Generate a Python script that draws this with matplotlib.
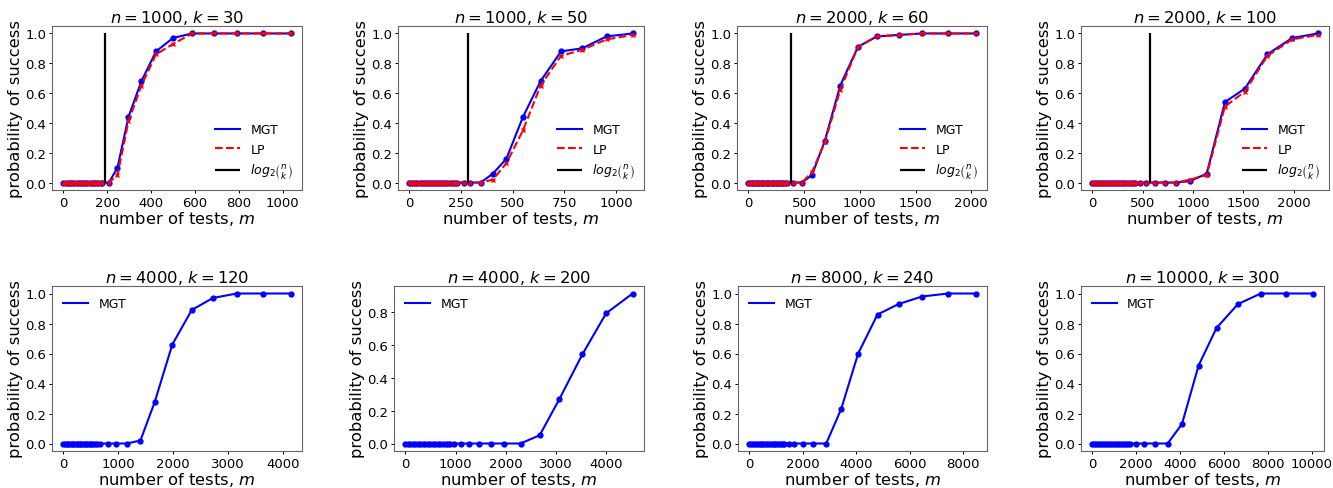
import numpy as np
import matplotlib.pyplot as plt
from matplotlib.ticker import MultipleLocator

# ---- data ----
titles = [r'$n = 1000$, $k = 30$', r'$n = 1000$, $k = 50$',
          r'$n = 2000$, $k = 60$', r'$n = 2000$, $k = 100$',
          r'$n = 4000$, $k = 120$', r'$n = 4000$, $k = 200$',
          r'$n = 8000$, $k = 240$', r'$n = 10000$, $k = 300$']

# log2(n choose k) marker for the top row
log2_binom = [190, 282, 385, 570]

m_1000_30 = [0, 10, 20, 30, 40, 50, 60, 70, 80, 90, 100, 110, 120, 130, 140, 150, 160, 170, 178,
             208, 247, 297, 356, 423, 501, 588, 688, 792, 912, 1037]
mgt_1000_30 = [0] * 19 + [0.0, 0.10, 0.44, 0.68, 0.88, 0.97, 1.0, 1.0, 1.0, 1.0, 1.0]
lp_1000_30 = [0] * 19 + [0.0, 0.05, 0.41, 0.65, 0.86, 0.93, 1.0, 1.0, 1.0, 1.0, 1.0]

m_1000_50 = [0, 10, 20, 30, 40, 50, 60, 70, 80, 90, 100, 110, 120, 130, 140, 150, 160, 170, 180, 190, 200, 210, 220,
             230, 263, 295, 346, 405, 470, 550, 635, 734, 836, 954, 1081]
mgt_1000_50 = [0] * 23 + [0.0, 0.0, 0.0, 0.0, 0.06, 0.16, 0.44, 0.68, 0.88, 0.90, 0.98, 1.0]
lp_1000_50 = [0] * 23 + [0.0, 0.0, 0.0, 0.0, 0.02, 0.13, 0.35, 0.65, 0.85, 0.89, 0.96, 0.99]

m_2000_60 = [0, 15, 30, 45, 60, 75, 90, 105, 120, 135, 150, 165, 180, 195, 210, 225, 240, 255, 270, 285, 300, 315,
             330, 346, 400, 481, 571, 686, 824, 983, 1152, 1350, 1561, 1790, 2039]
mgt_2000_60 = [0] * 24 + [0.0, 0.0, 0.05, 0.28, 0.65, 0.91, 0.98, 0.99, 1.0, 1.0, 1.0]
lp_2000_60 = [0] * 24 + [0.0, 0.0, 0.07, 0.27, 0.62, 0.91, 0.98, 0.99, 1.0, 1.0, 1.0]

m_2000_100 = [0, 20, 40, 60, 80, 100, 120, 140, 160, 180, 200, 220, 240, 260, 280, 300, 320, 340, 360, 380, 400, 420,
              471, 534, 619, 718, 834, 972, 1137, 1318, 1516, 1740, 1987, 2240]
mgt_2000_100 = [0] * 22 + [0.0, 0.0, 0.0, 0.0, 0.0, 0.01, 0.06, 0.54, 0.63, 0.86, 0.97, 1.0]
lp_2000_100 = [0] * 22 + [0.0, 0.0, 0.0, 0.0, 0.0, 0.02, 0.05, 0.51, 0.61, 0.85, 0.96, 0.99]

m_4000_120 = [0, 30, 60, 90, 120, 150, 180, 210, 240, 270, 300, 330, 360, 390, 420, 450, 480, 510, 540, 575, 610,
              672, 806, 965, 1160, 1404, 1667, 1984, 2338, 2723, 3156, 3632, 4139]
mgt_4000_120 = [0] * 21 + [0.0, 0.0, 0.0, 0.0, 0.02, 0.28, 0.66, 0.89, 0.97, 1.0, 1.0, 1.0]

m_4000_200 = [0, 50, 100, 150, 200, 250, 300, 350, 400, 450, 500, 550, 600, 650, 700, 750, 800, 850, 896,
              970, 1104, 1258, 1465, 1699, 1973, 2294, 2676, 3070, 3525, 4000, 4528]
mgt_4000_200 = [0] * 19 + [0.0, 0.0, 0.0, 0.0, 0.0, 0.0, 0.0, 0.05, 0.27, 0.54, 0.79, 0.91]

m_8000_240 = [0, 70, 140, 210, 280, 350, 420, 490, 560, 630, 700, 770, 840, 910, 980, 1050, 1120, 1190, 1250, 1308,
              1470, 1682, 1994, 2393, 2879, 3439, 4075, 4798, 5595, 6467, 7439, 8473]
mgt_8000_240 = [0] * 20 + [0.0, 0.0, 0.0, 0.0, 0.0, 0.23, 0.60, 0.86, 0.93, 0.98, 1.0, 1.0]

m_10000_300 = [0, 90, 180, 270, 360, 450, 540, 630, 720, 810, 900, 990, 1080, 1170, 1260, 1350, 1440, 1530, 1630,
               1704, 2000, 2370, 2844, 3437, 4089, 4844, 5659, 6637, 7674, 8815, 10044]
mgt_10000_300 = [0] * 19 + [0.0, 0.0, 0.0, 0.0, 0.0, 0.13, 0.52, 0.77, 0.93, 1.0, 1.0, 1.0]

top_m = [m_1000_30, m_1000_50, m_2000_60, m_2000_100]
top_mgt = [mgt_1000_30, mgt_1000_50, mgt_2000_60, mgt_2000_100]
top_lp = [lp_1000_30, lp_1000_50, lp_2000_60, lp_2000_100]
bot_m = [m_4000_120, m_4000_200, m_8000_240, m_10000_300]
bot_mgt = [mgt_4000_120, mgt_4000_200, mgt_8000_240, mgt_10000_300]

x_steps = [200, 250, 500, 500, 1000, 1000, 2000, 2000]

# axes boxes in pixels (left, right), rows (top, bottom)
W, H = 1333, 489
top_cols = [(52, 302), (398, 644), (737, 987), (1081, 1329)]
bot_cols = [(52, 302), (394, 644), (738, 987), (1081, 1324)]
top_row = (27, 191)
bot_row = (287, 452)


def make_ax(fig, col, row, step):
    l, r = col
    t, b = row
    ax = fig.add_axes([l / W, 1 - b / H, (r - l) / W, (b - t) / H])
    for s in ax.spines.values():
        s.set_color('#666666')
        s.set_linewidth(0.8)
    ax.tick_params(labelsize=9.5, length=2.5, pad=1.5, width=0.7)
    ax.xaxis.set_major_locator(MultipleLocator(step))
    ax.yaxis.set_major_locator(MultipleLocator(0.2))
    ax.set_xlabel('number of tests, $m$', fontsize=11.8, labelpad=0)
    ax.set_ylabel('probability of success', fontsize=11.8, labelpad=2)
    return ax


fig = plt.figure(figsize=(W / 100, H / 100), dpi=100)

for i in range(4):
    ax = make_ax(fig, top_cols[i], top_row, x_steps[i])
    m = top_m[i]
    ax.plot(m, top_mgt[i], color='blue', lw=1.5, label='MGT')
    ax.plot(m, top_mgt[i], 'o', color='blue', ms=3.5)
    ax.plot(m, top_lp[i], color='red', ls='--', lw=1.5, label='LP')
    ax.plot(m, top_lp[i], 'x', color='red', ms=3.5, mew=1)
    ax.vlines(log2_binom[i], 0, 1, color='black', lw=1.6, label=r'$log_2\binom{n}{k}$')
    ax.set_title(titles[i], fontsize=11.8, pad=3)
    ax.legend(loc='lower right', frameon=False, fontsize=9, borderaxespad=0.3)

for i in range(4):
    ax = make_ax(fig, bot_cols[i], bot_row, x_steps[4 + i])
    m = bot_m[i]
    ax.plot(m, bot_mgt[i], color='blue', lw=1.5, label='MGT')
    ax.plot(m, bot_mgt[i], 'o', color='blue', ms=3.5)
    ax.set_title(titles[4 + i], fontsize=11.8, pad=3)
    ax.legend(loc='upper left', frameon=False, fontsize=9)

fig.savefig('out.png', dpi=100)
